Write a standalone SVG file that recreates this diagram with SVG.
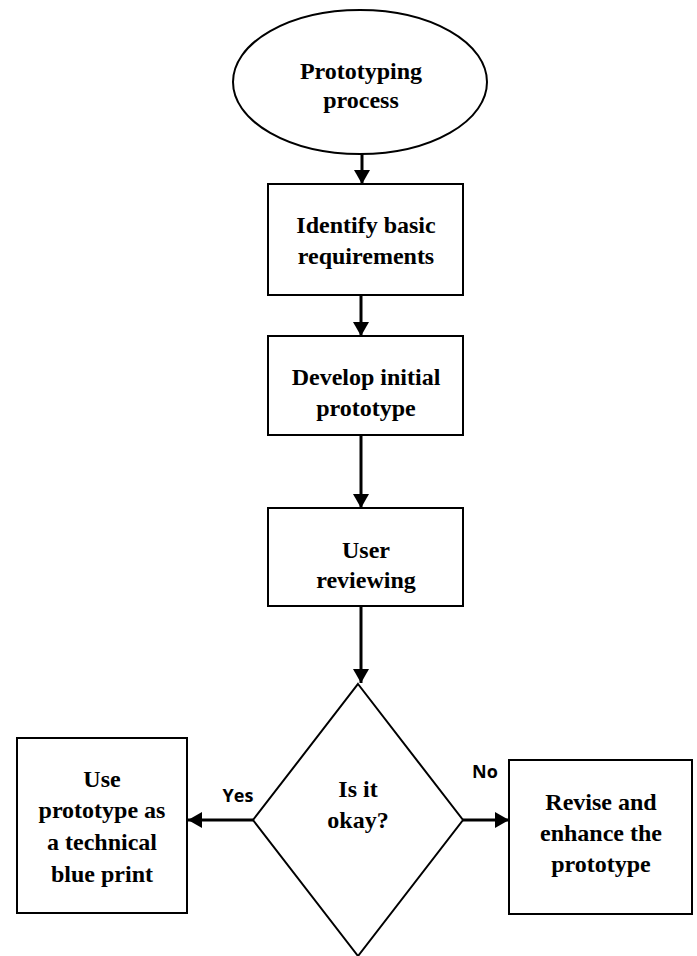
<svg xmlns="http://www.w3.org/2000/svg" width="697" height="956" viewBox="0 0 697 956">
<style>
.shape{fill:#fff;stroke:#000;stroke-width:2}
.t{font-family:"Liberation Serif","Times New Roman",serif;font-weight:bold;font-size:24px;text-anchor:middle;fill:#000}
.lbl{font-family:"Open Sans","Liberation Sans",sans-serif;font-weight:bold;font-size:18px;text-anchor:middle;fill:#000}
.c{stroke:#000;stroke-width:3;fill:none;marker-end:url(#ah)}
</style>
<defs>
<marker id="ah" markerUnits="userSpaceOnUse" markerWidth="14" markerHeight="16" viewBox="0 0 14 16" refX="14" refY="8" orient="auto">
<path d="M0,0 L14,8 L0,16 Z" fill="#000"/>
</marker>
</defs>
<rect width="697" height="956" fill="#fff"/>
<g id="connectors">
<line class="c" x1="362" y1="154" x2="362" y2="184"/>
<line class="c" x1="361" y1="295" x2="361" y2="336"/>
<line class="c" x1="361" y1="435" x2="361" y2="508"/>
<line class="c" x1="361" y1="606" x2="361" y2="683"/>
<line class="c" x1="253" y1="820" x2="188" y2="820"/>
<line class="c" x1="463" y1="820" x2="509" y2="820"/>
<text class="lbl" x="238" y="802">Yes</text>
<text class="lbl" x="485" y="778">No</text>
</g>
<g id="start">
<ellipse class="shape" cx="360" cy="82" rx="127" ry="72"/>
<text class="t" x="361" y="79">Prototyping</text>
<text class="t" x="361" y="108">process</text>
</g>
<g id="identify">
<rect class="shape" x="268" y="184" width="195" height="111"/>
<text class="t" x="366" y="233">Identify basic</text>
<text class="t" x="366" y="264">requirements</text>
</g>
<g id="develop">
<rect class="shape" x="268" y="336" width="195" height="99"/>
<text class="t" x="366" y="385">Develop initial</text>
<text class="t" x="366" y="416">prototype</text>
</g>
<g id="review">
<rect class="shape" x="268" y="508" width="195" height="98"/>
<text class="t" x="366" y="558">User</text>
<text class="t" x="366" y="588">reviewing</text>
</g>
<g id="decision">
<polygon class="shape" points="358,684 463,820 358,956 253,820"/>
<text class="t" x="358" y="797">Is it</text>
<text class="t" x="358" y="828">okay?</text>
</g>
<g id="use">
<rect class="shape" x="17" y="738" width="170" height="175"/>
<text class="t" x="102" y="787">Use</text>
<text class="t" x="102" y="818">prototype as</text>
<text class="t" x="102" y="850">a technical</text>
<text class="t" x="102" y="882">blue print</text>
</g>
<g id="revise">
<rect class="shape" x="509" y="760" width="183" height="154"/>
<text class="t" x="601" y="810">Revise and</text>
<text class="t" x="601" y="841">enhance the</text>
<text class="t" x="601" y="872">prototype</text>
</g>
</svg>
